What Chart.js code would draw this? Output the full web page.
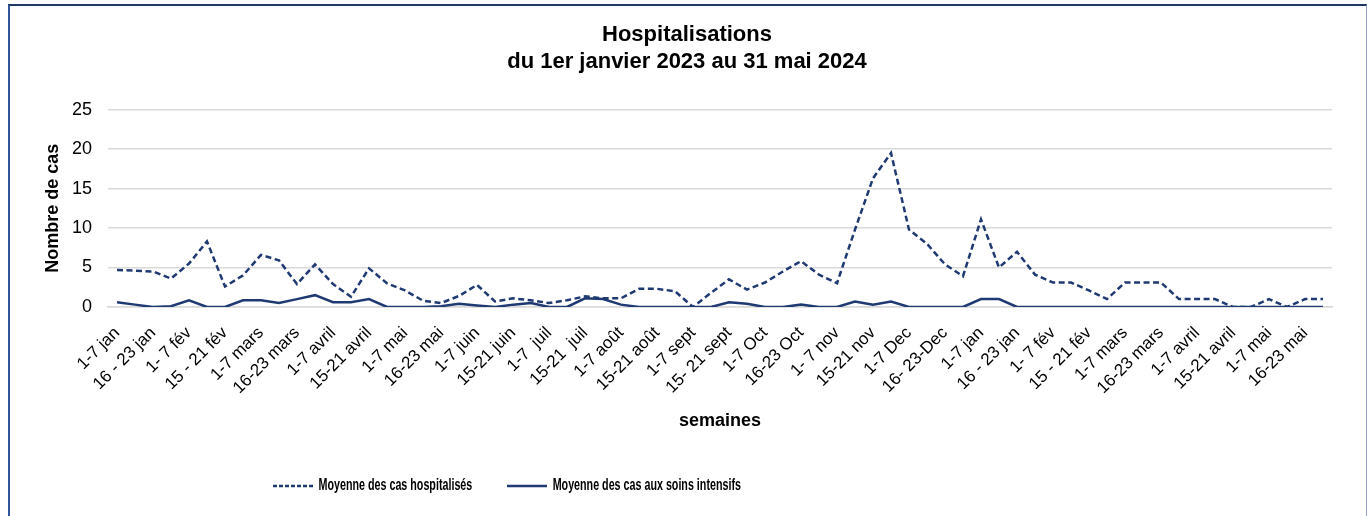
<!DOCTYPE html>
<html><head><meta charset="utf-8">
<script src="https://cdn.jsdelivr.net/npm/chart.js@4.4.1/dist/chart.umd.min.js"></script>
<style>
html,body{margin:0;padding:0;background:#fff;overflow:hidden;}
#wrap{position:relative;width:1367px;height:516px;overflow:hidden;}
#frame{position:absolute;left:8px;top:4px;width:1359px;height:600px;border-top:2px solid #1F3864;border-left:2px solid #2F5597;border-right:1px solid #8FA2CC;box-sizing:border-box;pointer-events:none;}
canvas{position:absolute;left:0;top:0;}
</style></head><body>
<div id="wrap"><canvas id="c" width="1367" height="516"></canvas><div id="frame"></div></div>
<script>
// Categories: weeks from 1 Jan 2023 to 31 May 2024 (every other label is shown)
const weeks = [
 "1-7 jan","8-15 jan","16 - 23 jan","24-31 jan",
 "1- 7 fév","8-14 fév","15 - 21 fév","22-28 fév",
 "1-7 mars","8-15 mars","16-23 mars","24-31 mars",
 "1-7 avril","8-14 avril","15-21 avril","22-30 avril",
 "1-7 mai","8-15 mai","16-23 mai","24-31 mai",
 "1-7 juin","8-14 juin","15-21 juin","22-30 juin",
 "1-7  juil","8-14 juil","15-21  juil","22-31 juil",
 "1-7 août","8-14 août","15-21 août","22-31 août",
 "1-7 sept","8-14 sept","15- 21 sept","22-30 sept",
 "1-7 Oct","8-15 Oct","16-23 Oct","24-31 Oct",
 "1- 7 nov","8-14 nov","15-21 nov","22-30 nov",
 "1-7 Dec","8-15 Dec","16- 23-Dec","24-31 Dec",
 "1-7 jan","8-15 jan","16 - 23 jan","24-31 jan",
 "1- 7 fév","8-14 fév","15 - 21 fév","22-29 fév",
 "1-7 mars","8-15 mars","16-23 mars","24-31 mars",
 "1-7 avril","8-14 avril","15-21 avril","22-30 avril",
 "1-7 mai","8-15 mai","16-23 mai","24-31 mai"
];
const hospitalises = [
 4.7,4.6,4.5,3.6,5.5,8.3,2.6,4.0,6.6,5.9,
 2.9,5.4,2.9,1.3,4.9,3.0,2.1,0.8,0.5,1.4,
 2.8,0.7,1.1,0.85,0.5,0.85,1.35,1.1,1.1,2.3,
 2.3,2.0,0,1.8,3.5,2.2,3.1,4.5,5.8,4.1,
 3.0,9.8,16.3,19.5,9.8,8.0,5.4,3.9,11.1,5.0,
 7.0,4.1,3.1,3.1,2.1,1.0,3.1,3.1,3.1,1.0,
 1.0,1.0,0,0,1.0,0,1.0,1.0
];
const soinsIntensifs = [
 0.6,0.3,0,0.1,0.85,0,0,0.85,0.85,0.5,
 1.0,1.5,0.6,0.6,1.0,0,0,0,0.1,0.4,
 0.2,0,0.3,0.5,0,0,1.1,1.0,0.3,0,
 0,0,0,0,0.6,0.4,0,0,0.3,0,
 0,0.7,0.3,0.7,0,0,0,0,1.0,1.0,
 0,0,0,0,0,0,0,0,0,0,
 0,0,0,0,0,0,0,0
];
const yTicks = [0,5,10,15,20,25];
const titleLines = ["Hospitalisations","du 1er janvier 2023 au 31 mai 2024"];
const seriesNames = ["Moyenne des cas hospitalisés","Moyenne des cas aux soins intensifs"];

const NAVY = '#1F3A73';
const FONT = "'Liberation Sans', Arial, Helvetica, sans-serif";

// legend line samples (dashed / solid)
function legendLine(dash) {
  const c = document.createElement('canvas');
  c.width = 60; c.height = 4;
  const g = c.getContext('2d');
  g.strokeStyle = NAVY; g.lineWidth = 2.5; g.setLineDash(dash);
  g.beginPath(); g.moveTo(0, 2); g.lineTo(60, 2); g.stroke();
  return c;
}
const legendSamples = [legendLine([6, 3]), legendLine([])];

// condensed legend, placed like the reference
const LEG = { sx: 0.67, startX: 273, centerY: 486 };
const legendSqueeze = {
  id: 'legendSqueeze',
  afterLayout(chart) {
    const lg = chart.legend;
    if (!lg || lg._squeezed) return;
    lg._squeezed = true;
    const orig = lg.draw.bind(lg);
    lg.draw = function () {
      const ctx = this.ctx;
      const pad = this.options.labels.padding;
      const size = this.options.labels.font.size;
      ctx.save();
      ctx.translate(LEG.startX - LEG.sx * (this.left + pad), LEG.centerY - (this.top + pad + size / 2));
      ctx.scale(LEG.sx, 1);
      orig();
      ctx.restore();
    };
  }
};

new Chart(document.getElementById('c'), {
  type: 'line',
  data: {
    labels: weeks,
    datasets: [
      { label: seriesNames[0], data: hospitalises, borderColor: NAVY, backgroundColor: NAVY,
        borderWidth: 2.5, borderDash: [6, 3.5], pointRadius: 0, tension: 0, fill: false },
      { label: seriesNames[1], data: soinsIntensifs, borderColor: NAVY, backgroundColor: NAVY,
        borderWidth: 2.5, pointRadius: 0, tension: 0, fill: false }
    ]
  },
  options: {
    responsive: false,
    animation: false,
    devicePixelRatio: 1,
    layout: { padding: { left: 42, right: 35, top: 0, bottom: 1 } },
    plugins: {
      title: { display: true, text: titleLines, color: '#000',
        font: { family: FONT, size: 22, weight: 'bold', lineHeight: 1.218 },
        padding: { top: 22, bottom: 34 } },
      legend: { position: 'bottom', align: 'start',
        labels: { usePointStyle: true, pointStyleWidth: 60, color: '#000', padding: 52,
          font: { family: FONT, size: 16, weight: 'bold' },
          generateLabels(chart) {
            const items = Chart.defaults.plugins.legend.labels.generateLabels(chart);
            items.forEach((it, i) => { it.pointStyle = legendSamples[i]; });
            return items;
          } } },
      tooltip: { enabled: false }
    },
    scales: {
      x: {
        offset: true,
        afterFit: (s) => { s.paddingLeft = 0; s.paddingRight = 0; s.height = 130; },
        grid: { display: false, drawTicks: false },
        border: { display: true, color: '#D9D9D9', width: 1.5 },
        ticks: { autoSkip: false, minRotation: 45, maxRotation: 45, padding: 16, color: '#000',
          font: { family: FONT, size: 17 },
          callback: (v, i) => (i % 2 === 0 ? weeks[i] : '') },
        title: { display: true, text: 'semaines', color: '#000',
          font: { family: FONT, size: 18, weight: 'bold' }, padding: { top: 6, bottom: 5 } }
      },
      y: {
        min: 0, max: 25,
        afterFit: (s) => { s.width = 66; },
        afterBuildTicks: (s) => { s.ticks = yTicks.map(v => ({ value: v })); },
        grid: { color: '#D9D9D9', lineWidth: 1.5, drawTicks: false },
        border: { display: false },
        ticks: { color: '#000', padding: 16, font: { family: FONT, size: 18 } },
        title: { display: true, text: 'Nombre de cas', color: '#000',
          font: { family: FONT, size: 18, weight: 'bold' }, padding: { top: 0, bottom: 8 } }
      }
    }
  },
  plugins: [legendSqueeze]
});
</script>
</body></html>
